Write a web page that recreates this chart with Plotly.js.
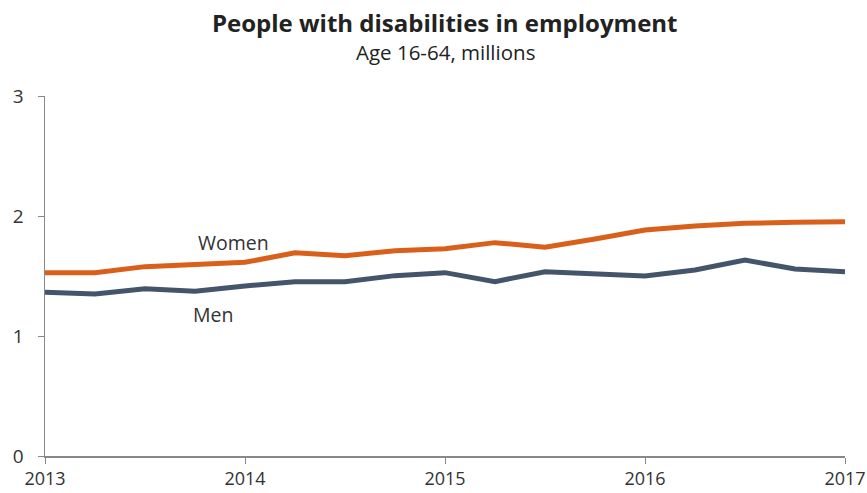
<!DOCTYPE html>
<html>
<head>
<meta charset="utf-8">
<script src="https://cdn.plot.ly/plotly-3.0.1.min.js"></script>
<style>html,body{margin:0;padding:0;background:#fff;}#chart{width:867px;height:493px;}</style>
</head>
<body>
<div id="chart"></div>
<script>
const quarters = [2013, 2013.25, 2013.5, 2013.75, 2014, 2014.25, 2014.5, 2014.75, 2015, 2015.25, 2015.5, 2015.75, 2016, 2016.25, 2016.5, 2016.75, 2017];
const women = [1.528, 1.528, 1.578, 1.60, 1.614, 1.694, 1.669, 1.711, 1.728, 1.778, 1.739, 1.808, 1.883, 1.917, 1.939, 1.947, 1.953];
const men = [1.364, 1.35, 1.394, 1.372, 1.417, 1.453, 1.453, 1.503, 1.528, 1.453, 1.536, 1.517, 1.50, 1.55, 1.633, 1.558, 1.536];
const xTicks = [2013, 2014, 2015, 2016, 2017];
const xTickLabels = ['2013', '2014', '2015', '2016', '2017'];
const yTicks = [0, 1, 2, 3];

const font = 'Open Sans, DejaVu Sans, sans-serif';
const traces = [
  {x: quarters, y: women, type: 'scatter', mode: 'lines', name: 'Women',
   line: {color: '#D9601A', width: 5}},
  {x: quarters, y: men, type: 'scatter', mode: 'lines', name: 'Men',
   line: {color: '#44546A', width: 5}}
];
const layout = {
  width: 867, height: 493,
  margin: {l: 45, r: 22, t: 96, b: 37},
  paper_bgcolor: '#fff', plot_bgcolor: '#fff',
  showlegend: false,
  font: {family: font, color: '#333', size: 19},
  title: {text: '<b>People with disabilities in employment</b>', x: 0.513, xanchor: 'center', y: 0.953, yanchor: 'middle',
          font: {family: font, size: 24, color: '#222'}},
  xaxis: {range: [2013, 2017], tickvals: xTicks, ticktext: xTickLabels, showgrid: false, zeroline: false,
          showline: true, linecolor: '#888', linewidth: 1.5, ticks: 'outside', ticklen: 6, tickcolor: '#888',
          ticklabelstandoff: 0, ticklabeloverflow: 'allow',
          tickfont: {size: 18, color: '#333'}, fixedrange: true},
  yaxis: {range: [0, 3], tickvals: yTicks, showgrid: false, zeroline: false,
          showline: true, linecolor: '#888', linewidth: 1.5, ticks: 'outside', ticklen: 6, tickcolor: '#888',
          ticklabelstandoff: 10,
          tickfont: {size: 19, color: '#333'}, fixedrange: true},
  annotations: [
    {text: 'Age 16-64, millions', xref: 'paper', yref: 'paper', x: 0.5, y: 1.0, yshift: 44, showarrow: false,
     xanchor: 'center', yanchor: 'middle', font: {family: font, size: 20.5, color: '#222'}},
    {text: 'Women', x: 2013.94, y: 1.78, xref: 'x', yref: 'y', showarrow: false, font: {size: 19.5, color: '#333'}},
    {text: 'Men', x: 2013.84, y: 1.18, xref: 'x', yref: 'y', showarrow: false, font: {size: 19.5, color: '#333'}}
  ]
};
Plotly.newPlot('chart', traces, layout, {displayModeBar: false, staticPlot: true});
</script>
</body>
</html>
